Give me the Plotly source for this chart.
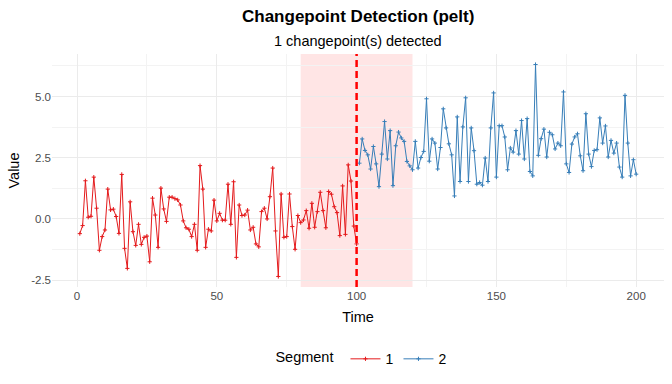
import plotly.graph_objects as go

time_seg1 = list(range(1, 101))
time_seg2 = list(range(101, 201))

value_seg1 = [
    -0.60, -0.27, 1.56, 0.07, 0.11, 1.71, 0.44, -1.28, -0.72, -0.45,
    1.22, 0.37, 0.40, 0.10, -0.59, 1.82, -1.20, -2.02, 0.70, -0.52,
    -1.08, -0.22, -1.04, -0.75, -0.70, -1.75, 0.85, 0.16, -1.16, 1.26,
    0.41, -0.10, 0.89, 0.89, 0.83, 0.78, 0.57, -0.08, -0.36, -0.42,
    -0.72, -0.22, -1.28, 2.18, 1.22, -1.16, -0.42, -0.49, 0.77, -0.08,
    0.23, -0.05, -0.05, 1.42, -0.22, 1.52, -1.57, 0.57, 0.14, 0.16,
    0.36, -0.45, -0.34, -1.02, -1.14, 0.30, 0.44, 0.00, 0.91, 2.08,
    -0.49, -2.35, 1.02, -0.75, -0.72, 1.02, -0.31, -1.24, 0.14, -0.15,
    -0.04, 0.34, -0.38, 0.64, -0.34, 0.30, 1.09, 0.34, -0.36, 1.12,
    1.01, 0.50, 0.26, -0.68, 1.35, -0.63, 2.21, 1.55, -0.29, -1.02,
]

value_seg2 = [
    2.28, 3.27, 2.80, 2.62, 2.04, 2.96, 2.25, 1.32, 2.65, 3.98,
    2.45, 3.61, 1.36, 2.99, 3.55, 3.31, 3.17, 2.35, 2.17, 2.01,
    3.17, 2.08, 2.51, 2.76, 4.91, 2.36, 3.27, 3.10, 2.04, 2.92,
    4.50, 3.72, 3.07, 2.62, 0.94, 4.17, 1.53, 3.76, 4.95, 1.53,
    3.72, 2.79, 1.42, 1.49, 1.38, 2.49, 1.53, 3.72, 5.15, 1.71,
    3.81, 3.81, 3.35, 2.01, 2.90, 2.73, 3.61, 2.65, 4.02, 2.45,
    4.10, 1.94, 1.76, 6.31, 2.60, 3.28, 3.67, 2.53, 3.54, 3.44,
    2.86, 3.10, 2.99, 5.19, 2.25, 1.90, 3.06, 3.35, 3.48, 2.58,
    1.97, 4.30, 2.65, 2.14, 2.80, 2.83, 4.13, 3.10, 3.80, 2.53,
    3.21, 2.69, 3.10, 2.12, 1.71, 5.05, 3.10, 1.76, 2.42, 1.83,
]

changepoint = 100
window = [80, 120]
x_ticks = [0, 50, 100, 150, 200]
y_ticks = [-2.5, 0.0, 2.5, 5.0]
y_tick_labels = ["-2.5", "0.0", "2.5", "5.0"]

FONT = "Liberation Sans, Arial, sans-serif"
RED = "#E41A1C"
BLUE = "#377EB8"

fig = go.Figure()
for name, xs, ys, col in [("1", time_seg1, value_seg1, RED), ("2", time_seg2, value_seg2, BLUE)]:
    fig.add_trace(go.Scatter(
        x=xs, y=ys, mode="lines+markers", name=name,
        line=dict(color=col, width=1),
        marker=dict(symbol="cross-thin", size=3, line=dict(color=col, width=1), color=col),
    ))

fig.add_shape(type="rect", xref="x", yref="paper", x0=window[0], x1=window[1], y0=0, y1=1,
              fillcolor="rgba(255,0,0,0.1)", line=dict(width=0), layer="between")
fig.add_shape(type="line", xref="x", yref="paper", x0=changepoint, x1=changepoint, y0=0, y1=1,
              line=dict(color="#FF0000", width=2.5, dash="7px,4px"), layer="above")

grid_major = "#EBEBEB"
grid_minor = "#F3F3F3"
fig.update_xaxes(
    range=[-8.95, 209.95], tickvals=x_ticks, ticktext=[str(v) for v in x_ticks],
    showgrid=True, gridcolor=grid_major, gridwidth=1, zeroline=False, showline=False,
    ticks="", tickfont=dict(size=11.5, color="#4D4D4D", family=FONT), automargin=False,
    title=dict(text="Time", font=dict(size=14.5, color="black", family=FONT), standoff=11),
    minor=dict(tickvals=[25, 75, 125, 175], showgrid=True, gridcolor=grid_minor, gridwidth=0.6),
)
fig.update_yaxes(
    range=[-2.78, 6.74], tickvals=y_ticks, ticktext=y_tick_labels,
    showgrid=True, gridcolor=grid_major, gridwidth=1, zeroline=False, showline=False,
    ticks="", tickfont=dict(size=11.5, color="#4D4D4D", family=FONT), automargin=False,
    title=dict(text="Value", font=dict(size=14.5, color="black", family=FONT), standoff=8),
    minor=dict(tickvals=[-1.25, 1.25, 3.75, 6.25], showgrid=True, gridcolor=grid_minor, gridwidth=0.6),
)

fig.add_annotation(text="<b>Changepoint Detection (pelt)</b>", xref="paper", yref="paper",
                   x=0.5, y=(233 + 54 - 17) / 233, yanchor="middle", xanchor="center",
                   showarrow=False, font=dict(size=17, color="black", family=FONT))
fig.add_annotation(text="1 changepoint(s) detected", xref="paper", yref="paper",
                   x=0.5, y=(233 + 54 - 41) / 233, yanchor="middle", xanchor="center",
                   showarrow=False, font=dict(size=14.5, color="black", family=FONT))

fig.update_layout(
    width=672, height=384,
    margin=dict(l=52, r=8, t=54, b=97, autoexpand=False),
    paper_bgcolor="white", plot_bgcolor="white",
    font=dict(family=FONT),
    showlegend=True,
    legend=dict(orientation="h", x=0.508, xanchor="center", y=-0.31, yanchor="middle",
                title=dict(text="Segment ", font=dict(size=14.5, color="black", family=FONT), side="left"),
                font=dict(size=14, color="black", family=FONT),
                itemwidth=30, tracegroupgap=0),
)

fig.write_html("out.html", post_script="document.body.style.margin='0px';",
               config={"displayModeBar": False})
